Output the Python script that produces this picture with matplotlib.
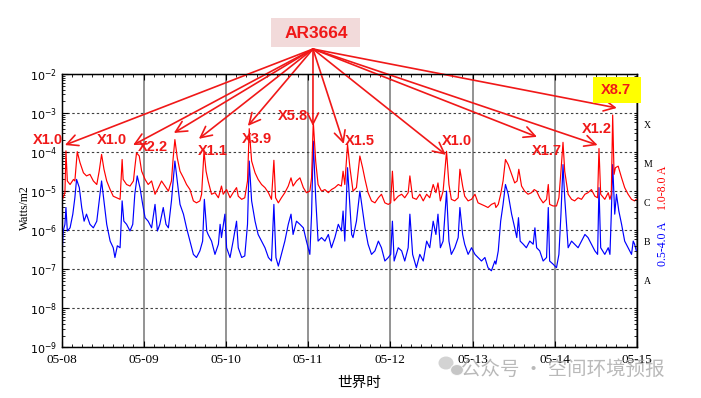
import numpy as np
import matplotlib
matplotlib.use('Agg')
import matplotlib.pyplot as plt
from matplotlib import ticker
from matplotlib.patches import Rectangle, Ellipse

# ---------------- data (hours since 05-08 00:00 UT, log10 flux in W/m2) ----------------
long_hours = [0.1,1.0,1.3,1.7,2.5,3.5,3.9,4.6,5.4,6.4,7.3,8.3,9.3,10.3,11.0,11.7,12.4,13.2,14.2,15.1,16.1,17.1,17.7,18.0,19.0,20.0,21.0,21.4,21.9,22.7,23.4,24.4,25.3,26.3,27.3,28.3,29.2,30.2,31.2,32.1,32.6,33.1,33.8,34.6,35.6,36.5,37.5,38.5,39.4,40.4,40.9,41.6,
              42.2,42.8,43.8,44.8,45.8,46.7,47.2,48.2,49.2,50.1,51.1,51.6,52.6,53.5,54.3,54.8,55.5,56.5,57.4,58.4,59.4,60.4,61.3,62.0,62.5,63.3,64.2,65.2,66.2,67.0,67.6,68.6,69.6,70.6,71.5,72.5,73.0,73.5,74.2,74.9,75.9,76.9,77.9,78.8,79.8,80.8,81.7,82.2,82.7,83.5,84.2,84.7,
              85.1,86.1,87.1,87.9,88.6,89.5,90.5,91.5,92.5,93.4,94.4,95.4,96.1,96.6,97.1,98.3,99.3,100.2,101.2,101.7,102.5,103.6,104.6,105.6,106.6,107.5,108.5,109.3,109.9,110.6,111.4,112.4,113.1,113.8,114.8,115.8,116.3,117.1,117.7,118.7,119.7,120.7,121.6,122.6,123.6,124.5,125.5,126.5,
              126.8,127.5,128.2,128.9,129.6,130.4,131.4,132.3,133.0,133.5,134.3,135.2,136.2,137.2,138.0,138.7,139.6,140.6,141.6,142.1,142.5,143.5,144.5,145.2,145.8,146.4,146.9,147.9,148.9,149.8,150.8,151.8,152.8,153.7,154.7,155.7,156.5,156.9,157.4,158.6,159.6,160.1,160.5,160.9,161.3,161.7,162.5,163.5,164.4,165.4,166.4,167.3,167.8]
long_log10 = [-5.25,-5.04,-3.97,-4.74,-4.83,-4.70,-4.74,-3.99,-4.27,-4.53,-4.61,-4.57,-4.74,-4.83,-4.49,-4.06,-4.44,-4.74,-4.96,-5.13,-5.17,-5.21,-4.19,-4.70,-4.83,-4.87,-4.74,-4.40,-4.02,-4.10,-4.49,-4.70,-4.83,-4.74,-5.08,-4.91,-4.74,-4.87,-5.00,-4.74,-4.15,-3.68,-4.15,-4.49,-4.66,-4.83,-4.96,-5.25,-5.30,-5.25,-5.08,-3.98,
              -4.49,-4.74,-5.08,-5.04,-5.17,-4.87,-5.08,-4.96,-5.17,-5.04,-4.91,-5.13,-5.21,-5.17,-4.74,-3.40,-4.23,-4.53,-4.70,-4.83,-4.91,-5.04,-5.21,-4.21,-5.17,-5.30,-5.17,-5.04,-4.87,-4.66,-4.87,-4.74,-4.66,-4.91,-5.04,-5.00,-4.66,-3.22,-4.23,-4.83,-5.00,-4.96,-5.04,-4.96,-4.91,-4.83,-4.87,-4.49,-4.83,-3.80,-4.40,-4.74,
              -5.00,-4.91,-4.10,-4.40,-4.70,-5.04,-5.25,-5.30,-5.17,-5.08,-5.30,-5.34,-5.30,-4.49,-5.25,-5.13,-5.08,-5.17,-5.04,-4.61,-5.17,-5.21,-5.08,-5.25,-5.08,-5.17,-4.83,-5.04,-4.79,-5.25,-5.00,-3.98,-4.83,-5.21,-5.25,-5.17,-4.44,-4.87,-5.13,-5.25,-5.21,-5.08,-5.30,-5.34,-5.38,-5.42,-5.34,-5.30,
              -5.42,-5.34,-5.08,-4.74,-4.19,-4.32,-4.57,-4.79,-4.74,-4.44,-4.87,-5.00,-5.08,-5.04,-4.96,-5.00,-5.17,-5.30,-5.21,-4.83,-5.34,-5.38,-5.38,-5.17,-4.49,-3.75,-4.49,-5.08,-5.21,-5.25,-5.17,-5.21,-5.08,-5.04,-4.96,-5.13,-5.17,-3.91,-5.08,-5.21,-5.04,-5.21,-5.08,-3.05,-4.57,-4.40,-4.36,-4.66,-4.91,-5.08,-5.21,-5.25,-5.21]

short_hours = [0.1,0.5,1.0,1.3,1.7,2.5,3.3,3.9,4.4,5.2,5.9,6.6,7.3,8.3,9.3,10.3,11.0,11.7,12.4,13.2,14.2,15.1,15.6,16.3,17.1,17.7,18.2,19.0,20.0,20.8,21.4,22.1,22.9,23.7,24.4,25.3,26.3,27.3,28.0,28.7,29.7,30.5,31.2,32.1,33.1,33.8,34.6,35.6,36.5,37.5,38.5,39.4,40.4,41.2,41.7,42.4,
               42.8,43.8,44.8,45.8,46.3,46.7,47.7,48.2,49.2,50.1,51.1,51.6,52.6,53.5,54.3,54.8,55.5,56.5,57.4,58.4,59.4,60.4,61.3,62.0,62.6,63.3,64.2,65.2,66.2,67.0,67.6,68.6,69.6,70.6,71.5,72.5,73.0,73.5,74.2,74.9,75.9,76.9,77.9,78.8,79.8,80.8,81.7,82.2,82.7,83.5,84.2,84.7,
               85.1,86.1,87.1,87.9,88.6,89.5,90.5,91.5,92.5,93.4,94.4,95.4,96.1,96.6,97.1,98.3,99.3,100.2,101.2,101.7,102.5,103.6,104.6,105.6,106.6,107.5,108.5,109.3,109.9,110.6,111.4,112.4,113.1,113.8,114.8,115.8,116.3,117.1,117.7,118.7,119.7,120.7,121.6,122.6,123.6,124.5,125.5,126.5,
               126.8,127.5,128.2,128.9,129.6,130.4,131.4,132.3,132.9,133.4,133.9,134.8,135.7,136.7,137.7,138.2,138.7,139.6,140.6,141.6,142.1,142.5,143.5,144.5,145.2,145.8,146.4,146.9,147.9,148.9,149.8,150.8,151.8,152.8,153.7,154.7,155.7,156.5,156.9,157.4,158.6,159.6,160.1,160.5,160.9,161.5,162.0,162.7,163.5,164.4,165.4,166.4,166.9,167.3,167.8]
short_log10 = [-6.79,-6.02,-5.85,-5.42,-6.02,-5.94,-5.59,-5.17,-4.70,-4.91,-5.42,-5.77,-5.59,-5.85,-5.94,-5.77,-5.25,-4.74,-5.25,-5.85,-6.28,-6.45,-6.70,-6.40,-6.45,-5.25,-5.77,-5.85,-6.02,-5.85,-5.08,-4.61,-4.91,-5.34,-5.68,-5.77,-5.94,-5.34,-6.02,-5.85,-5.42,-5.85,-5.94,-5.25,-4.23,-4.74,-5.34,-5.59,-5.94,-6.28,-6.62,-6.70,-6.53,-6.28,-5.21,-6.02,
               -6.11,-6.28,-6.62,-6.36,-5.85,-6.19,-5.59,-6.45,-6.70,-6.28,-5.77,-6.45,-6.70,-6.66,-5.85,-4.23,-5.25,-5.77,-6.11,-6.28,-6.45,-6.70,-6.79,-5.34,-6.70,-6.92,-6.62,-6.28,-5.85,-5.59,-6.11,-5.77,-5.85,-5.94,-6.28,-6.62,-5.59,-3.72,-5.17,-6.28,-6.19,-6.28,-6.11,-6.45,-6.19,-5.85,-6.02,-5.51,-6.28,-4.40,-5.42,-6.11,
               -6.19,-5.77,-5.00,-5.51,-5.94,-6.36,-6.62,-6.53,-6.28,-6.45,-6.79,-6.70,-6.62,-5.77,-6.79,-6.45,-6.53,-6.79,-6.45,-5.59,-6.62,-6.96,-6.62,-6.79,-6.28,-6.45,-5.77,-6.11,-5.59,-6.45,-6.28,-5.00,-6.28,-6.62,-6.45,-6.19,-5.42,-6.11,-6.36,-6.62,-6.45,-6.62,-6.70,-6.79,-6.70,-6.96,-7.04,-6.79,
               -6.87,-6.53,-5.77,-5.34,-4.83,-5.08,-5.59,-5.94,-6.19,-5.68,-6.28,-6.36,-6.45,-6.28,-6.36,-5.94,-6.45,-6.53,-6.79,-6.70,-5.42,-6.79,-6.87,-6.96,-6.62,-5.59,-4.32,-5.17,-6.45,-6.28,-6.36,-6.45,-6.28,-6.11,-6.19,-6.36,-6.53,-6.62,-4.91,-6.45,-6.62,-6.45,-6.62,-5.59,-4.32,-5.59,-5.08,-5.51,-5.85,-6.28,-6.45,-6.62,-6.28,-6.36,-6.53]

day_labels = ['05-08', '05-09', '05-10', '05-11', '05-12', '05-13', '05-14', '05-15']
class_labels = ['X', 'M', 'C', 'B', 'A']
class_flux = [5e-4, 5e-5, 5e-6, 5e-7, 5e-8]

flare_labels = ['X1.0', 'X1.0', 'X2.2', 'X1.1', 'X3.9', 'X5.8', 'X1.5', 'X1.0', 'X1.7', 'X1.2', 'X8.7']
arrow_tip_hours = [1.0, 20.9, 32.8, 40.1, 54.4, 73.4, 82.4, 112.2, 138.8, 156.5, 162.1]
arrow_tip_log10 = [-3.82, -3.82, -3.51, -3.66, -3.33, -3.33, -3.79, -4.07, -3.61, -3.82, -2.87]
region_name = 'AR3664'

# ---------------- layout (figure pixels, origin top-left) ----------------
W, H = 701, 398
label_pos = [(48, 140), (112, 140), (153, 147), (213, 151), (257, 139), (293, 116),
             (360, 141), (457, 141), (547, 151), (597, 129), (616, 90)]
arrow_src = (313, 49)

def fx(x):
    return x / W

def fy(y):
    return 1 - y / H

plt.rcParams['mathtext.fontset'] = 'stix'
fig = plt.figure(figsize=(W / 100, H / 100), dpi=100)
ax = fig.add_axes([fx(61.5), fy(347.3), (637 - 61.5) / W, (347.3 - 74) / H])

ax.plot(long_hours, 10 ** np.array(long_log10), color='#ff0000', lw=0.85, zorder=3)
ax.plot(short_hours, 10 ** np.array(short_log10), color='#0000ff', lw=0.85, zorder=2.9)

ax.set_yscale('log')
ax.set_ylim(1e-9, 1e-2)
ax.set_xlim(0, 168)
ax.set_xticks(np.arange(0, 169, 24))
ax.set_xticklabels(day_labels, family='Liberation Serif', fontsize=9.5)
ax.xaxis.set_minor_locator(ticker.MultipleLocator(3))
ax.yaxis.set_major_locator(ticker.LogLocator(base=10, numticks=20))
ax.yaxis.set_minor_locator(ticker.LogLocator(base=10, subs=np.arange(2, 10), numticks=100))
ax.yaxis.set_minor_formatter(ticker.NullFormatter())
ax.yaxis.set_major_formatter(ticker.LogFormatterMathtext())
ax.tick_params(axis='y', which='major', labelsize=8, direction='in', length=4, pad=3)
ax.tick_params(axis='y', which='minor', direction='in', length=2)
ax.tick_params(axis='x', which='major', direction='in', length=4, top=True, pad=5)
ax.tick_params(axis='x', which='minor', direction='in', length=2.5, top=True)
ax.set_axisbelow(True)
ax.xaxis.grid(True, which='major', color='#808080', lw=1.2, ls='-')
ax.yaxis.grid(True, which='major', color='#404040', lw=0.8, ls=(0, (2.2, 2.2)))
for s in ax.spines.values():
    s.set_linewidth(1.0)

ax2 = ax.twinx()
ax2.set_yscale('log')
ax2.set_ylim(1e-9, 1e-2)
ax2.yaxis.set_major_locator(ticker.FixedLocator(class_flux))
ax2.yaxis.set_major_formatter(ticker.FixedFormatter(class_labels))
ax2.yaxis.set_minor_locator(ticker.LogLocator(base=10, subs=np.arange(1, 10), numticks=100))
ax2.yaxis.set_minor_formatter(ticker.NullFormatter())
ax2.tick_params(axis='y', which='major', length=0, pad=5, labelsize=7)
ax2.tick_params(axis='y', which='minor', direction='in', length=2.5)
for t in ax2.get_yticklabels():
    t.set_family('Liberation Serif')

fig.text(fx(25), fy(208), 'Watts/m2', rotation=90, ha='center', va='center',
         family='Liberation Serif', fontsize=8.5)
fig.text(fx(359), fy(383), '世界时', ha='center', va='center',
         family=['Noto Sans CJK SC', 'DejaVu Sans'], fontsize=10.5)
fig.text(fx(663), fy(188), '1.0-8.0 A', rotation=90, ha='center', va='center',
         family='Liberation Serif', fontsize=8.5, color='#ff0000')
fig.text(fx(663), fy(244), '0.5-4.0 A', rotation=90, ha='center', va='center',
         family='Liberation Serif', fontsize=8.5, color='#0000ff')

# annotation boxes
fig.patches.append(Rectangle((fx(271), fy(47)), 89 / W, 29 / H, transform=fig.transFigure,
                             fc='#f2dada', ec='none', zorder=1))
fig.patches.append(Rectangle((fx(593), fy(103)), 48 / W, 26 / H, transform=fig.transFigure,
                             fc='#ffff00', ec='none', zorder=1))
fig.text(fx(316), fy(33), region_name, ha='center', va='center', color='#f01818',
         fontweight='bold', family='Liberation Sans', fontsize=12.5, zorder=5)

for lab, (px, py), th, tl in zip(flare_labels, label_pos, arrow_tip_hours, arrow_tip_log10):
    fig.text(fx(px), fy(py), lab, ha='center', va='center', color='#f01818',
             fontweight='bold', family='Liberation Sans', fontsize=10.5, zorder=5)
    ax.annotate('', xy=(th, 10 ** tl), xycoords='data',
                xytext=(arrow_src[0], H - arrow_src[1]), textcoords='figure pixels',
                arrowprops=dict(arrowstyle='->,head_length=0.5,head_width=0.25',
                                color='#f01818', lw=1.2, mutation_scale=16,
                                shrinkA=0, shrinkB=0),
                annotation_clip=False, zorder=6)

# watermark
fig.patches.append(Ellipse((fx(446), fy(363)), 15 / W, 13 / H, transform=fig.transFigure,
                           fc='#c8c8c8', ec='none', alpha=0.8, zorder=1))
fig.patches.append(Ellipse((fx(457), fy(370)), 13 / W, 11 / H, transform=fig.transFigure,
                           fc='#b8b8b8', ec='white', lw=0.8, alpha=0.8, zorder=1))
fig.text(fx(563), fy(369), '公众号 · 空间环境预报', ha='center', va='center',
         family=['Noto Sans CJK SC', 'DejaVu Sans'], fontsize=14, color='#a8a8a8',
         alpha=0.8, zorder=7)

fig.savefig('out.png', dpi=100, facecolor='white')
